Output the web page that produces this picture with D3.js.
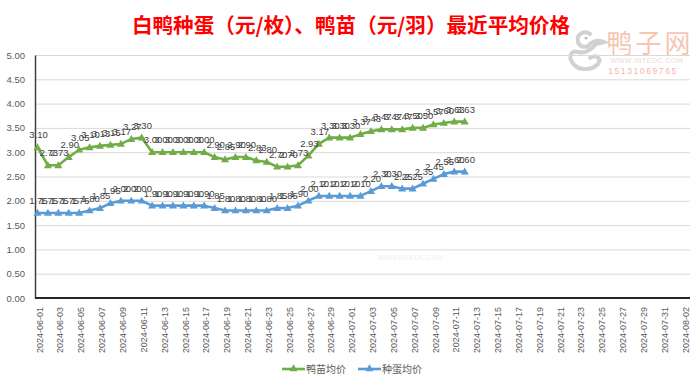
<!DOCTYPE html>
<html><head><meta charset="utf-8">
<script src="https://cdn.jsdelivr.net/npm/d3@7"></script>
<style>
html,body{margin:0;padding:0;background:#fff;}
svg{display:block;}
</style></head>
<body>
<svg id="chart" width="700" height="383"></svg>
<script>
const dates = ["2024-06-01","2024-06-02","2024-06-03","2024-06-04","2024-06-05","2024-06-06","2024-06-07","2024-06-08","2024-06-09","2024-06-10",
"2024-06-11","2024-06-12","2024-06-13","2024-06-14","2024-06-15","2024-06-16","2024-06-17","2024-06-18","2024-06-19","2024-06-20",
"2024-06-21","2024-06-22","2024-06-23","2024-06-24","2024-06-25","2024-06-26","2024-06-27","2024-06-28","2024-06-29","2024-06-30",
"2024-07-01","2024-07-02","2024-07-03","2024-07-04","2024-07-05","2024-07-06","2024-07-07","2024-07-08","2024-07-09","2024-07-10",
"2024-07-11","2024-07-12"];
const ducklingPrice = [3.10,2.73,2.73,2.90,3.05,3.10,3.13,3.15,3.17,3.27,
3.30,3.00,3.00,3.00,3.00,3.00,3.00,2.90,2.85,2.90,
2.90,2.83,2.80,2.70,2.70,2.73,2.93,3.17,3.30,3.30,
3.30,3.37,3.43,3.47,3.47,3.47,3.50,3.50,3.57,3.60,
3.63,3.63];
const eggPrice = [1.75,1.75,1.75,1.75,1.75,1.80,1.85,1.95,2.00,2.00,
2.00,1.90,1.90,1.90,1.90,1.90,1.90,1.85,1.80,1.80,
1.80,1.80,1.80,1.85,1.85,1.90,2.00,2.10,2.10,2.10,
2.10,2.10,2.20,2.30,2.30,2.25,2.25,2.35,2.45,2.55,
2.60,2.60];
const xTickLabels = ["2024-06-01","2024-06-03","2024-06-05","2024-06-07","2024-06-09","2024-06-11","2024-06-13","2024-06-15",
"2024-06-17","2024-06-19","2024-06-21","2024-06-23","2024-06-25","2024-06-27","2024-06-29","2024-07-01",
"2024-07-03","2024-07-05","2024-07-07","2024-07-09","2024-07-11","2024-07-13","2024-07-15","2024-07-17",
"2024-07-19","2024-07-21","2024-07-23","2024-07-25","2024-07-27","2024-07-29","2024-07-31","2024-08-02"];
const yTicks = [0,0.5,1,1.5,2,2.5,3,3.5,4,4.5,5];
const seriesNames = ["鸭苗均价","种蛋均价"];
const seriesColors = ["#70AD47","#5B9BD5"];
const title = "白鸭种蛋（元/枚）、鸭苗（元/羽）最近平均价格";

const parse = d3.utcParse("%Y-%m-%d");
const svg = d3.select("#chart");
const numFont = "'Liberation Sans', Arial, sans-serif";
const cjkFont = "'Noto Sans CJK SC', 'Noto Sans', sans-serif";

const x = d3.scaleUtc().domain([parse("2024-06-01"), parse("2024-08-02")]).range([37.5, 683.5]);
const y = d3.scaleLinear().domain([0,5]).range([298,55]);
const plotLeft = 35, plotRight = 690;

// watermark
const wm = svg.append("g").attr("opacity",0.85);
wm.append("path")
  .attr("d","M590,34 C584,30 576,34 578,42 C580,48 588,48 590,44 C594,40 600,40 604,42 L596,44 C592,50 584,54 578,52 C572,50 568,56 572,62 C576,70 590,72 598,64 C602,58 596,54 590,58")
  .attr("fill","none").attr("stroke","#c9c9c9").attr("stroke-width",4).attr("stroke-linecap","round");
wm.append("circle").attr("cx",586).attr("cy",38).attr("r",1.5).attr("fill","#b0b0b0");
wm.append("text").attr("x",650).attr("y",53).attr("text-anchor","middle")
  .attr("font-family",cjkFont).attr("font-size",26).attr("letter-spacing",3).attr("fill","#F6BCA6").text("鸭子网");
wm.append("text").attr("x",647).attr("y",63).attr("text-anchor","middle")
  .attr("font-family",numFont).attr("font-size",7).attr("fill","#EAD3CC").attr("letter-spacing",0.5).text("WWW.INTEDC.COM");
wm.append("text").attr("x",643).attr("y",74).attr("text-anchor","middle")
  .attr("font-family",numFont).attr("font-size",8.5).attr("fill","#F3A6A6").attr("letter-spacing",1.6).text("15131069765");

// title
svg.append("text").attr("x",351).attr("y",33).attr("text-anchor","middle")
  .attr("font-family",cjkFont).attr("font-weight","bold").attr("font-size",20.6)
  .attr("fill","#FF0000").text(title);

// gridlines
svg.append("g").selectAll("line").data(yTicks.filter(v=>v>0)).join("line")
  .attr("x1",plotLeft).attr("x2",plotRight)
  .attr("y1",d=>y(d)+0.5).attr("y2",d=>y(d)+0.5)
  .attr("stroke","#D9D9D9").attr("stroke-width",1);

// y axis
const yAxis = d3.axisLeft(y).tickValues(yTicks).tickFormat(d3.format(".2f")).tickSize(0).tickPadding(10);
const yg = svg.append("g").attr("transform",`translate(${plotLeft},0)`).call(yAxis);
yg.select(".domain").attr("stroke","#404040").attr("stroke-width",1.5);
yg.selectAll("text").attr("font-family",numFont).attr("font-size",9.5).attr("fill","#595959");

// x axis
const xAxis = d3.axisBottom(x).tickValues(xTickLabels.map(parse)).tickFormat(d3.utcFormat("%Y-%m-%d")).tickSize(0);
const xg = svg.append("g").attr("transform",`translate(0,298)`).call(xAxis);
xg.select(".domain").attr("d",`M${plotLeft},0H${plotRight}`).attr("stroke","#262626").attr("stroke-width",2);
xg.selectAll("text").attr("font-family",numFont).attr("font-size",9).attr("fill","#595959")
  .attr("text-anchor","end").attr("transform","rotate(-90)").attr("x",-9).attr("y",0).attr("dy","0.35em")
  .attr("dx",0);
xg.selectAll(".tick").attr("transform",d=>`translate(${x(d)+2},0)`);

// faint watermark url in plot
svg.append("text").attr("x",410).attr("y",260).attr("text-anchor","middle")
  .attr("font-family",numFont).attr("font-size",7).attr("fill","#EFEFEF").text("WWW.INTEDC.COM");

// series
const series = [ducklingPrice, eggPrice];
const line = d3.line().x((d,i)=>x(parse(dates[i]))).y(d=>y(d));
const tri = d3.symbol().type(d3.symbolTriangle).size(28);

series.forEach((vals,si)=>{
  const g = svg.append("g");
  g.append("path").datum(vals).attr("d",line).attr("fill","none")
    .attr("stroke",seriesColors[si]).attr("stroke-width",2.6).attr("stroke-linejoin","round");
  g.selectAll("path.m").data(vals).join("path").attr("class","m")
    .attr("d",tri).attr("transform",(d,i)=>`translate(${x(parse(dates[i]))},${y(d)+0.5})`)
    .attr("fill",seriesColors[si]);
});
series.forEach((vals,si)=>{
  svg.append("g").selectAll("text").data(vals).join("text")
    .attr("x",(d,i)=>x(parse(dates[i]))+1).attr("y",d=>y(d)-9)
    .attr("text-anchor","middle").attr("font-family",numFont).attr("font-size",9.5)
    .attr("fill","#404040").text(d=>d.toFixed(2));
});

// legend
const legendItems = [{x:282,name:seriesNames[0],c:seriesColors[0]},{x:358,name:seriesNames[1],c:seriesColors[1]}];
const lg = svg.append("g");
legendItems.forEach(it=>{
  lg.append("line").attr("x1",it.x).attr("x2",it.x+23).attr("y1",369).attr("y2",369)
    .attr("stroke",it.c).attr("stroke-width",2.6);
  lg.append("path").attr("d",tri).attr("transform",`translate(${it.x+11.5},369)`).attr("fill",it.c);
  lg.append("text").attr("x",it.x+24).attr("y",373).attr("font-family",cjkFont).attr("font-size",10)
    .attr("fill","#595959").text(it.name);
});
</script>
</body></html>
